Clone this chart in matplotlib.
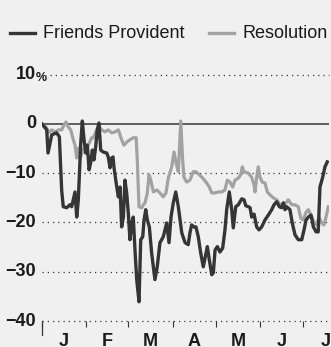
import matplotlib
matplotlib.use("Agg")
import matplotlib.pyplot as plt
from matplotlib.lines import Line2D

# ── data (days since Jan 1st, % change) ───────────────────────────────────────
fp_day = [0, 3.3, 4.2, 5.6, 6.8, 10.2, 12.1, 13.7, 14.8, 17.2, 19.5, 20.7, 21.8, 23.0,
          24.2, 25.3, 27.0, 28.1, 29.3, 30.5, 31.6, 32.8, 33.9, 35.1, 36.2, 37.4, 38.5,
          39.7, 40.9, 42.7, 45.1, 46.2, 47.4, 48.6, 49.5, 50.2, 52.1, 53.2, 54.4, 55.5,
          56.7, 57.8, 59.0, 60.1, 61.3, 62.5, 63.6, 64.8, 66.0, 67.6, 68.8, 70.2, 71.1,
          72.3, 73.4, 74.8, 76.4, 78.7, 80.3, 82.2, 84.5, 86.9, 88.5, 89.9, 91.5, 93.2,
          95.0, 97.4, 99.7, 101.9, 103.1, 104.3, 105.9, 107.3, 108.9, 110.6, 112.4,
          113.6, 115.2, 116.6, 118.3, 119.4, 120.6, 122.2, 124.0, 125.9, 127.5, 128.7,
          130.5, 132.2, 133.3, 135.0, 136.8, 139.2, 140.8, 142.0, 143.8, 145.0, 146.1,
          147.8, 149.6, 151.2, 153.1, 155.4, 157.7, 160.1, 161.7, 163.6, 165.4, 167.0,
          168.2, 169.3, 170.5, 172.8, 174.4, 176.3, 178.6, 181.0, 182.6, 184.0, 185.6,
          187.5, 189.1, 191.0, 192.5, 193.7, 195.6, 197.2, 198.8]
fp_val = [0, -1.2, -5.9, -3.9, -2.2, -1.8, -2.6, -13.4, -16.8, -17.0, -16.4, -16.8, -15.4,
          -13.8, -18.9, -15.4, -3.9, 0.6, -3.2, -5.9, -4.3, -9.3, -7.9, -5.3, -7.3, -4.7,
          -1.2, 0.2, -5.3, -5.7, -5.9, -6.7, -8.9, -6.9, -6.7, -8.9, -12.8, -14.8, -12.8,
          -20.9, -18.9, -11.4, -14.0, -18.0, -23.5, -20.1, -18.9, -25.6, -31.6, -36.1,
          -23.5, -22.9, -19.5, -17.4, -19.5, -20.9, -26.2, -31.6, -29.0, -24.1, -22.9,
          -20.1, -24.1, -18.9, -16.0, -13.8, -16.8, -22.1, -24.1, -24.5, -22.1, -20.5,
          -20.9, -20.9, -22.9, -26.2, -29.0, -27.2, -24.9, -27.6, -30.6, -30.2, -25.6,
          -24.9, -26.0, -25.2, -21.5, -17.4, -13.8, -17.4, -21.1, -16.8, -16.4, -15.2,
          -15.4, -16.6, -16.8, -17.0, -18.9, -18.3, -20.9, -21.5, -20.9, -19.5, -18.5,
          -17.4, -16.4, -15.8, -16.8, -17.0, -16.0, -17.4, -16.8, -17.4, -20.1, -22.5,
          -23.5, -23.5, -21.5, -19.5, -18.9, -18.5, -20.9, -21.9, -21.9, -12.8, -10.8,
          -8.7, -7.7]

res_day = [0, 3.3, 4.4, 6.8, 9.1, 11.4, 13.7, 15.3, 16.7, 18.3, 20.0, 21.8, 23.0, 24.2,
           25.3, 26.5, 29.3, 32.8, 34.6, 35.7, 38.1, 39.9, 41.6, 43.9, 46.2, 48.6, 50.9,
           53.2, 55.5, 57.1, 59.0, 61.3, 63.6, 65.6, 66.4, 67.6, 69.5, 70.6, 71.8, 73.4,
           74.6, 75.8, 77.6, 80.0, 82.2, 84.5, 86.4, 88.0, 90.4, 92.0, 93.4, 95.0, 96.7,
           98.0, 98.9, 100.8, 103.1, 105.4, 107.3, 109.6, 112.0, 114.3, 116.6, 118.3,
           120.6, 122.9, 125.2, 127.5, 129.1, 131.0, 132.9, 134.5, 136.8, 138.5, 139.6,
           140.8, 143.8, 146.1, 147.8, 148.4, 149.6, 150.7, 151.9, 153.5, 155.4, 157.0,
           158.9, 161.2, 163.6, 165.9, 168.2, 170.0, 171.6, 174.0, 176.3, 178.6, 180.3,
           182.1, 184.0, 185.6, 188.0, 189.5, 191.4, 193.0, 194.9, 196.5, 197.9, 199.5]
res_val = [0, -0.8, -1.8, -1.2, -1.6, -1.2, -1.2, -0.2, 0.4, -0.6, -1.2, -3.2, -4.3, -6.9,
           -4.9, -6.9, -5.0, -4.0, -2.8, -2.8, -1.2, -0.6, -1.2, -1.6, -1.2, -1.8, -1.6,
           -1.2, -3.2, -4.3, -3.7, -3.2, -2.8, -2.8, -7.3, -16.8, -17.0, -16.4, -16.0,
           -14.0, -10.3, -11.4, -13.8, -13.4, -14.0, -14.8, -14.0, -11.0, -8.7, -5.7,
           -7.9, -9.7, 0.6, -7.3, -10.8, -11.8, -11.4, -9.7, -9.7, -10.3, -11.0, -11.8,
           -12.8, -14.0, -14.0, -13.8, -13.8, -13.4, -11.4, -11.8, -12.8, -11.4, -11.0,
           -10.3, -8.7, -9.7, -10.0, -10.8, -12.4, -13.8, -10.8, -8.7, -10.8, -11.8, -12.0,
           -13.8, -14.4, -15.0, -15.4, -16.4, -16.8, -16.0, -15.4, -16.4, -16.4, -16.8,
           -19.1, -19.5, -17.9, -17.4, -18.9, -19.9, -20.5, -18.9, -20.1, -20.5, -18.9,
           -16.8]

month_start = [0, 31, 60, 91, 121, 152, 182]
month_mid = [15.5, 45.5, 75.5, 106, 136.5, 167, 197.5]
month_labels = ["J", "F", "M", "A", "M", "J", "J"]
y_grid = [10, -10, -20, -30, -40]
y_labels = ["10", "\u221210", "\u221220", "\u221230", "\u221240"]
series_names = ["Friends Provident", "Resolution"]

# ── style ────────────────────────────────────────────────────────────────────
BG = "#f0f0f0"
DARK = "#353535"
GREY = "#a2a2a2"
INK = "#1a1a1a"
FONT = ["Liberation Sans", "DejaVu Sans"]
W, H = 331, 347


def fx(x):
    return x / W


def fy(y):
    return (H - y) / H


fig = plt.figure(figsize=(W / 100, H / 100), dpi=100, facecolor=BG)
ax = fig.add_axes([fx(42), fy(321), fx(329) - fx(42), fy(74.7) - fy(321)])
ax.set_facecolor(BG)
ax.set_xlim(0, 200)
ax.set_ylim(-40, 10)
for s in ax.spines.values():
    s.set_visible(False)

# gridlines
for v in y_grid:
    x0 = 5.6 if v == 10 else 0
    ax.hlines(v, x0, 200, colors=DARK, lw=0.9, linestyles=(0, (1, 3.2)), clip_on=False)
ax.axhline(0, color=DARK, lw=1.1, zorder=2)

# series
ax.plot(res_day, res_val, color=GREY, lw=2.3, zorder=3)
ax.plot(fp_day, fp_val, color=DARK, lw=2.4, zorder=4)

# x axis: month ticks and mid-month labels
ax.set_xticks(month_start)
ax.set_xticklabels([])
ax.tick_params(axis="x", which="major", length=4.5, width=0.8, color=DARK, direction="out")
ax.set_xticks(month_mid, minor=True)
ax.set_xticklabels(month_labels, minor=True, fontsize=13, fontweight="bold",
                   family=FONT, color=INK)
ax.tick_params(axis="x", which="minor", length=0, pad=9)
ax.plot([0, 0], [-40, -42.8], color=DARK, lw=0.9, clip_on=False)
ax.set_yticks([])

# y labels
for v, lab in zip(y_grid + [0], y_labels + ["0"]):
    ax.annotate(lab, xy=(0, v), xycoords="data", xytext=(-6 / 1.389, 0),
                textcoords="offset points", ha="right", va="center",
                fontsize=13, fontweight="bold", family=FONT, color=INK)
ax.annotate("%", xy=(0, 10), xycoords="data", xytext=(-6 / 1.389, -4.5),
            textcoords="offset points", ha="left", va="baseline",
            fontsize=9, fontweight="bold", family=FONT, color=INK)

# legend
for (x0, x1, tx), name, col in zip([(10, 35, 43), (209, 234, 242)], series_names, [DARK, GREY]):
    fig.add_artist(Line2D([fx(x0), fx(x1)], [fy(33), fy(33)], color=col, lw=2.4))
    fig.text(fx(tx), fy(33), name, ha="left", va="center", fontsize=13,
             family=FONT, color=INK)

fig.savefig("out.png", dpi=100, facecolor=BG)
